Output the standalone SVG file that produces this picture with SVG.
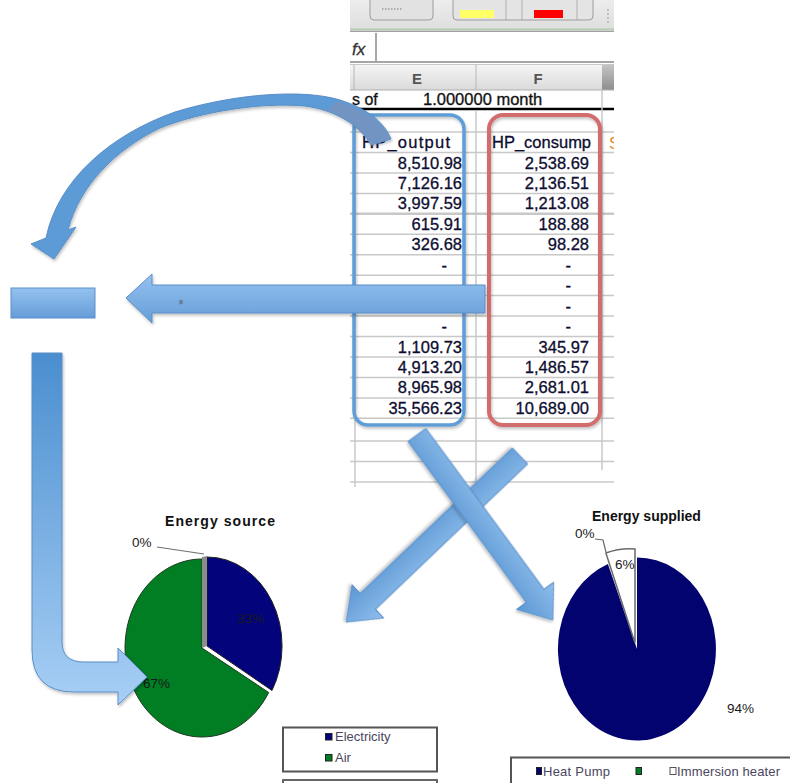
<svg xmlns="http://www.w3.org/2000/svg" width="790" height="783" viewBox="0 0 790 783">
<style>
  text { font-family: "Liberation Sans", Arial, sans-serif; }
  .grid { stroke: #c8c8c8; stroke-width: 1.5; }
  .val { font-size: 16.5px; fill: #0d0d30; stroke: #0d0d30; stroke-width: 0.3; text-anchor: end; }
  .hdr { font-size: 16.5px; fill: #0d0d30; stroke: #0d0d30; stroke-width: 0.3; }
  .col { font-size: 15px; font-weight: bold; fill: #555; text-anchor: middle; }
  .title { font-size: 14px; font-weight: bold; fill: #111; }
  .pct { font-size: 13.5px; fill: #1a1a1a; }
  .leg { font-size: 13px; fill: #4a4560; }
  .arrow { stroke: #5a8ec8; stroke-width: 1; filter: url(#shadow); }
</style>
<defs>
  <linearGradient id="gHead" x1="0" y1="0" x2="0" y2="1">
    <stop offset="0" stop-color="#f5f5f5"/><stop offset="1" stop-color="#dadada"/>
  </linearGradient>
  <linearGradient id="gHeadDark" x1="0" y1="0" x2="0" y2="1">
    <stop offset="0" stop-color="#c4c4c4"/><stop offset="1" stop-color="#8e8e8e"/>
  </linearGradient>
  <linearGradient id="gTool" x1="0" y1="0" x2="0" y2="1">
    <stop offset="0" stop-color="#ededed"/><stop offset="1" stop-color="#dedede"/>
  </linearGradient>
  <linearGradient id="gFlat" x1="0" y1="0" x2="0" y2="1">
    <stop offset="0" stop-color="#95c2ef"/><stop offset="1" stop-color="#659dd8"/>
  </linearGradient>
  <linearGradient id="gBent" gradientUnits="userSpaceOnUse" x1="0" y1="353" x2="0" y2="705">
    <stop offset="0" stop-color="#4a8ecf"/><stop offset="1" stop-color="#a8cff5"/>
  </linearGradient>
  <linearGradient id="gDiag" x1="0" y1="0" x2="0" y2="1">
    <stop offset="0" stop-color="#8fbeec"/><stop offset="1" stop-color="#5b97d3"/>
  </linearGradient>
  <filter id="shadow" x="-10%" y="-10%" width="130%" height="130%">
    <feDropShadow dx="1" dy="2" stdDeviation="1.5" flood-color="#000" flood-opacity="0.25"/>
  </filter>
  <clipPath id="sheetClip"><rect x="350" y="0" width="264" height="492"/></clipPath>
</defs>

<rect width="790" height="783" fill="#fff"/>

<!-- spreadsheet screenshot -->
<g id="spreadsheet" clip-path="url(#sheetClip)">
  <!-- toolbar -->
  <rect x="350" y="0" width="264" height="30" fill="url(#gTool)"/>
  <rect x="370" y="-6" width="63" height="26" rx="4" fill="#e2e2e2" stroke="#9c9c9c"/>
  <line x1="382" y1="9" x2="403" y2="9" stroke="#777" stroke-dasharray="1.5 1.5"/>
  <rect x="453" y="-6" width="140" height="26" rx="4" fill="#e4e4e4" stroke="#9c9c9c"/>
  <line x1="506" y1="0" x2="506" y2="20" stroke="#b0b0b0"/>
  <line x1="522" y1="0" x2="522" y2="20" stroke="#b0b0b0"/>
  <line x1="577" y1="0" x2="577" y2="20" stroke="#b0b0b0"/>
  <rect x="460" y="10" width="34" height="8" fill="#ffff66"/>
  <rect x="534" y="10" width="29" height="8" fill="#ff0000"/>
  <line x1="608" y1="9" x2="608" y2="23" stroke="#999" stroke-dasharray="2 2"/>
  <line x1="350" y1="29.5" x2="614" y2="29.5" stroke="#b5cbb5" stroke-width="2"/>
  <line x1="350" y1="31.5" x2="614" y2="31.5" stroke="#a0a0a0" stroke-width="1.5"/>
  <!-- formula bar -->
  <rect x="350" y="32" width="264" height="30" fill="#fff"/>
  <line x1="376" y1="33" x2="376" y2="62" stroke="#a8a8a8" stroke-width="2"/>
  <text x="352" y="55" font-size="17" font-style="italic" fill="#333" stroke="#333" stroke-width="0.3">fx</text>
  <line x1="350" y1="62" x2="614" y2="62" stroke="#a6a6a6" stroke-width="2"/>
  <line x1="350" y1="64.5" x2="614" y2="64.5" stroke="#c8c8c8" stroke-width="1"/>
  <!-- column headers -->
  <rect x="350" y="65" width="264" height="25" fill="url(#gHead)"/>
  <rect x="602" y="65" width="12" height="25" fill="url(#gHeadDark)"/>
  <line x1="354" y1="65" x2="354" y2="90" stroke="#b8b8b8"/>
  <line x1="476" y1="65" x2="476" y2="90" stroke="#b8b8b8"/>
  <line x1="350" y1="90" x2="614" y2="90" stroke="#b0b0b0"/>
  <text class="col" x="417" y="84">E</text>
  <text class="col" x="538" y="84">F</text>
  <!-- title row -->
  <text x="352" y="105" font-size="16" fill="#111" stroke="#111" stroke-width="0.3">s of</text>
  <text x="423" y="105" font-size="16.5" fill="#111" stroke="#111" stroke-width="0.3">1.000000 month</text>
  <line x1="350" y1="109" x2="614" y2="109" stroke="#000" stroke-width="2.5"/>
  <!-- grid -->
  <g class="grid">
    <line x1="350" y1="132" x2="614" y2="132"/>
    <line x1="350" y1="152.5" x2="614" y2="152.5"/>
    <line x1="350" y1="173" x2="614" y2="173"/>
    <line x1="350" y1="193.4" x2="614" y2="193.4"/>
    <line x1="350" y1="213.8" x2="614" y2="213.8" stroke-width="2.5"/>
    <line x1="350" y1="234.3" x2="614" y2="234.3"/>
    <line x1="350" y1="254.7" x2="614" y2="254.7"/>
    <line x1="350" y1="275.2" x2="614" y2="275.2"/>
    <line x1="350" y1="295.6" x2="614" y2="295.6"/>
    <line x1="350" y1="316" x2="614" y2="316"/>
    <line x1="350" y1="336.5" x2="614" y2="336.5"/>
    <line x1="350" y1="357" x2="614" y2="357"/>
    <line x1="350" y1="377.4" x2="614" y2="377.4"/>
    <line x1="350" y1="397.9" x2="614" y2="397.9"/>
    <line x1="350" y1="418.3" x2="614" y2="418.3"/>
    <line x1="350" y1="441" x2="614" y2="441"/>
    <line x1="350" y1="461.5" x2="614" y2="461.5"/>
    <line x1="350" y1="482" x2="614" y2="482"/>
    <line x1="355" y1="110" x2="355" y2="487"/>
    <line x1="476" y1="110" x2="476" y2="487"/>
    <line x1="602" y1="90" x2="602" y2="470"/>
  </g>
  <text x="609" y="149" font-size="16.5" fill="#e08a30">S</text>
</g>

<!-- HP_output column -->
<g id="hp-output">
  <rect x="354" y="115" width="110" height="310" rx="14" fill="none" stroke="#5f9dd6" stroke-width="3.5" filter="url(#shadow)"/>
  <text class="hdr" x="362" y="148" textLength="88" lengthAdjust="spacing">HP_output</text>
  <text class="val" x="462" y="168.5">8,510.98</text>
  <text class="val" x="462" y="189">7,126.16</text>
  <text class="val" x="462" y="209.4">3,997.59</text>
  <text class="val" x="462" y="229.8">615.91</text>
  <text class="val" x="462" y="250.3">326.68</text>
  <text class="val" x="447" y="270.7">-</text>
  <text class="val" x="447" y="332">-</text>
  <text class="val" x="462" y="352.5">1,109.73</text>
  <text class="val" x="462" y="373">4,913.20</text>
  <text class="val" x="462" y="393.4">8,965.98</text>
  <text class="val" x="462" y="413.9">35,566.23</text>
</g>

<!-- HP_consump column -->
<g id="hp-consump">
  <rect x="489" y="115" width="111" height="310" rx="14" fill="none" stroke="#d36c6c" stroke-width="4" filter="url(#shadow)"/>
  <text class="hdr" x="492" y="148">HP_consump</text>
  <text class="val" x="589" y="168.5">2,538.69</text>
  <text class="val" x="589" y="189">2,136.51</text>
  <text class="val" x="589" y="209.4">1,213.08</text>
  <text class="val" x="589" y="229.8">188.88</text>
  <text class="val" x="589" y="250.3">98.28</text>
  <text class="val" x="571" y="270.7">-</text>
  <text class="val" x="571" y="291.2">-</text>
  <text class="val" x="571" y="311.6">-</text>
  <text class="val" x="571" y="332">-</text>
  <text class="val" x="589" y="352.5">345.97</text>
  <text class="val" x="589" y="373">1,486.57</text>
  <text class="val" x="589" y="393.4">2,681.01</text>
  <text class="val" x="589" y="413.9">10,689.00</text>
</g>

<!-- small box on the left -->
<g id="left-box">
  <rect x="11" y="288" width="84" height="30" fill="url(#gFlat)" stroke="#5b8fc7" stroke-width="1"/>
</g>

<!-- Energy source pie -->
<g id="pie-source">
  <text class="title" x="165" y="526" textLength="110" lengthAdjust="spacing">Energy source</text>
  <path d="M202,648 L268.7,692.5 A77,89 0 1,1 202,559 Z" fill="#017d24" stroke="#1d3a1d" stroke-width="1"/>
  <path d="M207,646 L207,557 A75,89 0 0,1 272,690.5 Z" fill="#03037b" stroke="#222" stroke-width="1"/>
  <path d="M202,648 L202,557 L207,556 L207,646 Z" fill="#8c8c8c"/>
  <polyline points="157,547 204,554" fill="none" stroke="#707070" stroke-width="1.2"/>
  <text class="pct" x="132" y="547">0%</text>
  <text class="pct" x="237" y="623">33%</text>
  <text class="pct" x="143" y="688">67%</text>
</g>

<!-- Energy source legend -->
<g id="legend-source">
  <rect x="283" y="727.5" width="154" height="44" fill="#fff" stroke="#555" stroke-width="2"/>
  <rect x="325.5" y="733.5" width="6.5" height="6.5" fill="#03037b" stroke="#222"/>
  <text class="leg" x="335" y="741">Electricity</text>
  <rect x="325.5" y="754.5" width="6.5" height="6.5" fill="#017d24" stroke="#222"/>
  <text class="leg" x="335" y="762">Air</text>
  <path d="M283,790 L283,780 L437,780 L437,790" fill="none" stroke="#666" stroke-width="2"/>
</g>

<!-- Energy supplied pie -->
<g id="pie-supplied">
  <text class="title" x="592" y="521">Energy supplied</text>
  <path d="M637,649 L637,557.5 A79,91.5 0 1,1 607.9,563.9 Z" fill="#03036f"/>
  <path d="M635,643 L605.9,553 A79,91.5 0 0,1 635,549 Z" fill="#fff" stroke="#6a6a6a" stroke-width="1.5"/>
  <polyline points="595,539 603,540 606,552" fill="none" stroke="#6a6a6a" stroke-width="1.2"/>
  <text class="pct" x="575" y="538" font-size="12" fill="#333">0%</text>
  <text class="pct" x="615" y="569" font-size="12.5" fill="#3a3a3a">6%</text>
  <text class="pct" x="727" y="713" font-size="12.5" fill="#222">94%</text>
</g>

<!-- Energy supplied legend -->
<g id="legend-supplied">
  <path d="M511,790 L511,757.5 L795,757.5" fill="none" stroke="#555" stroke-width="2"/>
  <rect x="536.5" y="767.5" width="5" height="7" fill="#03036f" stroke="#222"/>
  <text class="leg" x="543" y="776" textLength="67" lengthAdjust="spacing">Heat Pump</text>
  <rect x="636" y="767.5" width="5.5" height="7" fill="#017d24" stroke="#222"/>
  <rect x="670" y="767.5" width="6" height="7" fill="#fff" stroke="#555"/>
  <text class="leg" x="677" y="776" textLength="103" lengthAdjust="spacing">Immersion heater</text>
</g>

<!-- block arrows -->
<g id="connectors">
  <!-- curved arrow: spreadsheet header to the left -->
  <path class="arrow" fill="#5b9bd5" stroke="#5b93cc"
        d="M46,238 L31,244 L54,259 L76,227 L68,230
           C80,185 115,150 160,128 C200,112 260,102 305,106
           C335,110 360,125 371,145 L391,139
           C383,120 365,108 340,100 C300,88 230,95 175,112
           C110,135 58,180 46,238 Z"/>
  <path d="M371,145 C362,128 345,117 326,110 L338,101 C362,109 383,121 391,139 Z" fill="#7194c2"/>
  <!-- straight arrow: table to small box -->
  <path class="arrow" fill="url(#gFlat)" d="M126,298 L152,274 L152,285 L485,285 L485,313 L152,313 L152,323 Z"/>
  <ellipse cx="181" cy="302" rx="2" ry="2.5" fill="#6b7f9a"/>
  <!-- bent arrow: small box to Energy source -->
  <path class="arrow" fill="url(#gBent)" d="M32,353 L62,353 L62,642 Q62,662 84,662 L118,662 L118,648 L147,677 L118,705 L118,692 L74,692 Q32,692 32,650 Z"/>
  <!-- diagonal arrows -->
  <path class="arrow" fill="url(#gDiag)" transform="translate(520,456) rotate(136.3)"
        d="M0,-11 L210.5,-11 L210.5,-23 L240.5,0 L210.5,23 L210.5,11 L0,11 Z"/>
  <path class="arrow" fill="url(#gDiag)" transform="translate(417,435) rotate(53.7)"
        d="M0,-11 L199.6,-11 L199.6,-23 L229.6,0 L199.6,23 L199.6,11 L0,11 Z"/>
</g>
</svg>
